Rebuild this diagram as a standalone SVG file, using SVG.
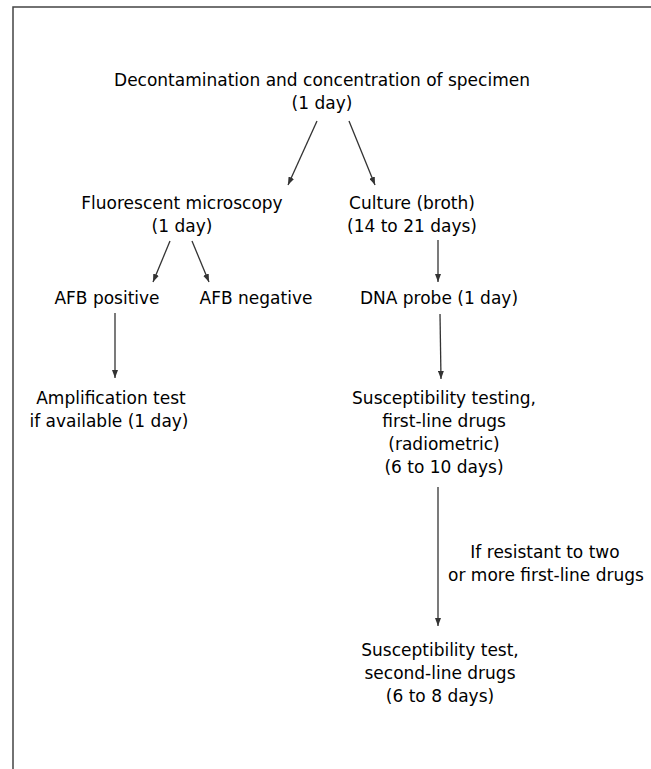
<svg xmlns="http://www.w3.org/2000/svg" width="651" height="769" viewBox="0 0 651 769">
<defs>
<style>
text{font-family:"DejaVu Sans","Liberation Sans",sans-serif;font-size:17px;fill:#000;text-anchor:middle}
.c{stroke:#333;stroke-width:1.3;fill:none;marker-end:url(#ah)}
</style>
<marker id="ah" markerUnits="userSpaceOnUse" markerWidth="8" markerHeight="6" refX="8" refY="3" orient="auto">
<path d="M0,0 L8,3 L0,6 z" fill="#333"/>
</marker>
</defs>
<rect width="651" height="769" fill="#fff"/>
<path d="M13,769 L13,7 L651,7" fill="none" stroke="#444" stroke-width="1.5"/>
<g id="decon"><text x="322" y="86">Decontamination and concentration of specimen</text><text x="322" y="109">(1 day)</text></g>
<g id="fluor"><text x="182" y="209">Fluorescent microscopy</text><text x="182" y="232">(1 day)</text></g>
<g id="culture"><text x="412" y="209">Culture (broth)</text><text x="412" y="232">(14 to 21 days)</text></g>
<g id="afbpos"><text x="107" y="304">AFB positive</text></g>
<g id="afbneg"><text x="256" y="304">AFB negative</text></g>
<g id="dna"><text x="439" y="304">DNA probe (1 day)</text></g>
<g id="ampl"><text x="111" y="404">Amplification test</text><text x="109" y="427">if available (1 day)</text></g>
<g id="susc1"><text x="444" y="404">Susceptibility testing,</text><text x="444" y="427">first-line drugs</text><text x="444" y="450">(radiometric)</text><text x="444" y="473">(6 to 10 days)</text></g>
<g id="susc2"><text x="440" y="656">Susceptibility test,</text><text x="440" y="679">second-line drugs</text><text x="440" y="702">(6 to 8 days)</text></g>
<g id="connectors">
<line class="c" x1="317" y1="121" x2="288" y2="185"/>
<line class="c" x1="349" y1="121" x2="375" y2="185"/>
<line class="c" x1="170" y1="241" x2="153" y2="282"/>
<line class="c" x1="192" y1="241" x2="209" y2="282"/>
<line class="c" x1="115" y1="313" x2="115" y2="378"/>
<line class="c" x1="438" y1="240" x2="438" y2="282"/>
<line class="c" x1="440" y1="314" x2="441" y2="379"/>
<line class="c" x1="438" y1="487" x2="438" y2="626"/>
<text x="545" y="558">If resistant to two</text>
<text x="546" y="581">or more first-line drugs</text>
</g>
</svg>
